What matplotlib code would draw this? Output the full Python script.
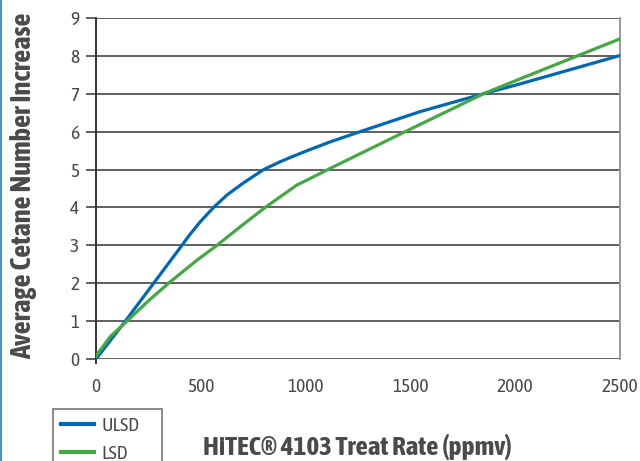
import matplotlib
matplotlib.use('Agg')
import matplotlib.pyplot as plt
from matplotlib.lines import Line2D

plt.rcParams['font.family'] = ['Asap Condensed', 'Roboto Condensed', 'DejaVu Sans']

# values
ulsd_x = [0, 140, 275, 410, 450, 497, 561, 625, 704, 800, 876, 927, 1022, 1117, 1260, 1547, 1848, 2023, 2500]
ulsd_y = [0.0, 1.0, 2.0, 3.0, 3.3, 3.62, 4.0, 4.33, 4.65, 5.0, 5.2, 5.32, 5.53, 5.73, 6.0, 6.53, 7.0, 7.26, 8.01]
lsd_x = [0, 68, 148, 243, 346, 482, 577, 688, 807, 958, 1038, 1117, 1475, 1848, 2008, 2500]
lsd_y = [0.08, 0.59, 1.0, 1.5, 2.0, 2.61, 3.0, 3.49, 4.0, 4.59, 4.81, 5.03, 6.0, 7.0, 7.36, 8.45]
xticks = [0, 500, 1000, 1500, 2000, 2500]
yticks = list(range(10))

blue = '#0068b5'
green = '#44a843'
grid = '#606060'
txt = '#4a4a4a'

fig = plt.figure(figsize=(6.4, 4.61), dpi=100)
ax = fig.add_axes([96/640, 1-359/461, 524/640, 341/461])

for y in yticks:
    ax.axhline(y, color=grid, lw=1.4, zorder=1)
ax.plot(ulsd_x, ulsd_y, color=blue, lw=2.3, label='ULSD', zorder=3)
ax.plot(lsd_x, lsd_y, color=green, lw=2.3, label='LSD', zorder=3)

ax.set_xlim(0, 2500)
ax.set_ylim(0, 9)
ax.set_xticks(xticks)
ax.set_yticks(yticks)
ax.tick_params(axis='x', length=0, pad=14, labelsize=14, labelcolor=txt)
ax.tick_params(axis='y', length=7, width=1.4, color=grid, pad=5, labelsize=14, labelcolor=txt)
for s in ['top', 'bottom']:
    ax.spines[s].set_visible(False)
ax.spines['left'].set_color('#333333')
ax.spines['left'].set_linewidth(1.4)
ax.spines['left'].set_bounds(-0.1, 9)
ax.spines['right'].set_color('#999999')
ax.spines['right'].set_linewidth(1.4)

fig.text(24/640, 1-186/461, 'Average Cetane Number Increase', fontsize=20.5, fontweight='bold',
         color=txt, rotation=90, ha='center', va='center')
fig.text(357/640, 1-447/461, 'HiTEC® 4103 Treat Rate (ppmv)', fontsize=19.5, fontweight='bold',
         color=txt, ha='center', va='center')

leg = fig.legend(loc='upper left', bbox_to_anchor=(53/640, 1-409/461 - 0.2, 109/640, 0.2),
                 mode='expand', borderaxespad=0, fontsize=14,
                 frameon=True, fancybox=False, edgecolor='#555555', handlelength=1.7,
                 handletextpad=0.4, labelspacing=0.5, borderpad=0.4)
leg.get_frame().set_linewidth(1.2)
for t in leg.get_texts():
    t.set_color(txt)
for h in leg.get_lines():
    h.set_linewidth(3)

fig.add_artist(Line2D([0.5/640, 0.5/640], [0, 1], color='#4a90c8', lw=1.5, transform=fig.transFigure))

fig.savefig('out.png', dpi=100)
